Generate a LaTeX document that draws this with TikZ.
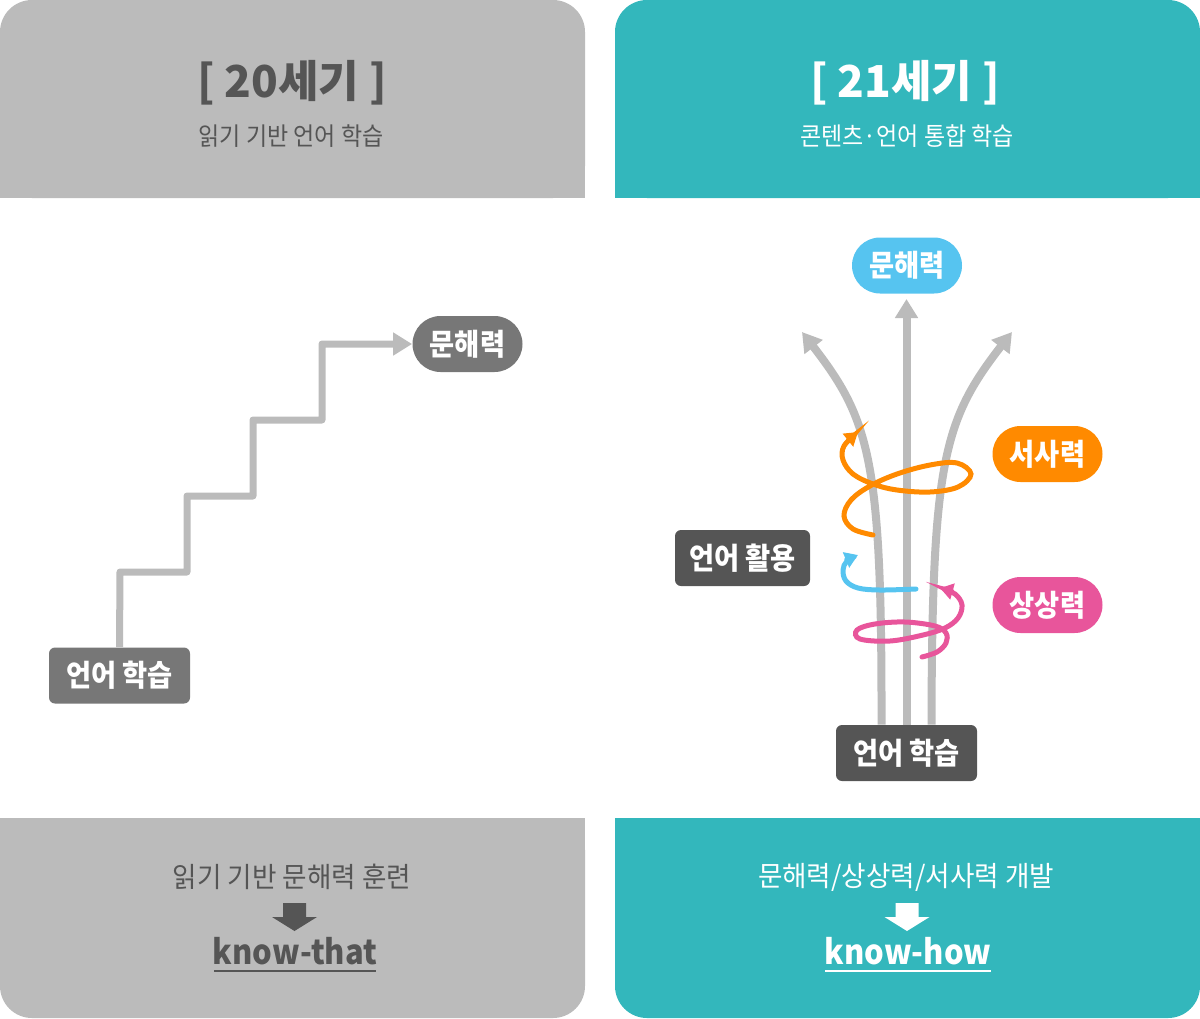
\documentclass[tikz,border=0pt]{standalone}
\usepackage{fontspec}
\setmainfont{Noto Sans CJK KR}
\newfontfamily\fsub{Noto Sans CJK KR}[FakeStretch=0.92]
\newfontfamily\fbot{Noto Sans CJK KR}[FakeStretch=0.95]
\newfontfamily\flbl{Noto Sans CJK KR}[FakeStretch=0.91]
\usetikzlibrary{arrows.meta}
\definecolor{panelgray}{HTML}{BBBBBB}
\definecolor{panelteal}{HTML}{33B7BC}
\definecolor{txtgray}{HTML}{555555}
\definecolor{boxgray}{HTML}{777777}
\definecolor{boxdark}{HTML}{555555}
\definecolor{skyb}{HTML}{56C4F0}
\definecolor{orng}{HTML}{FF8A00}
\definecolor{pnk}{HTML}{E8559B}
\definecolor{linegray}{HTML}{BBBBBB}
\begin{document}
\begin{tikzpicture}[x=0.5pt,y=-0.5pt,
  lbl/.style={text=white,font=\flbl\fontsize{15pt}{18pt}\selectfont\bfseries,inner sep=0pt,align=center},
  sqbox/.style={lbl,rounded corners=3pt,minimum width=70.5pt,minimum height=28pt},
  pill/.style={lbl,rounded corners=14pt,minimum width=55pt,minimum height=28pt},
  title/.style={font=\fontsize{22pt}{26pt}\selectfont\bfseries,inner sep=0pt},
  subt/.style={font=\fsub\fontsize{12.5pt}{15pt}\selectfont,inner sep=0pt},
  bott/.style={font=\fbot\fontsize{14pt}{17pt}\selectfont,inner sep=0pt},
  know/.style={font=\flbl\fontsize{17pt}{20pt}\selectfont\bfseries,inner sep=0pt,anchor=base},
  stair/.style={draw=linegray,line width=3.5pt,line join=round,-{Triangle[length=9.5pt,width=11pt]}},
  grayarr/.style={draw=linegray,line width=4pt,-{Triangle[length=9.5pt,width=11pt]}},
  spiral/.style={line width=2.5pt,line cap=round,-{Triangle[length=6.5pt,width=8pt]}}]
\useasboundingbox (0,0) rectangle (1200,1018);
% panels
\fill[panelgray,rounded corners=16pt] (0,0) rectangle (585,198);
\fill[panelgray] (0,100) rectangle (585,198);
\fill[panelteal,rounded corners=16pt] (615,0) rectangle (1200,198);
\fill[panelteal] (615,100) rectangle (1200,198);
\fill[panelgray,rounded corners=16pt] (0,818) rectangle (585,1018);
\fill[panelgray] (0,818) rectangle (585,900);
\fill[panelteal,rounded corners=16pt] (615,818) rectangle (1200,1018);
\fill[panelteal] (615,818) rectangle (1200,900);
% header texts
\node[title,text=txtgray] (t20) at (292,83) {[ 20세기 ]};
\node[subt,text=txtgray] (s20) at (291,136) {읽기 기반 언어 학습};
\node[title,text=white] (t21) at (905,83) {[ 21세기 ]};
\node[subt,text=white] (s21) at (907,136) {콘텐츠·언어 통합 학습};
% left diagram
\node[sqbox,fill=boxgray] (ls) at (119.5,675.5) {언어 학습};
\node[pill,fill=boxgray] (lm) at (467.5,344) {문해력};
\draw[stair] (ls.north) -- (120,572) -- (187,572) -- (187,496) -- (253,496) -- (253,420) -- (322,420) -- (322,344) -- (lm.west);
% right diagram
\node[pill,fill=skyb] (rm) at (907,265.5) {문해력};
\node[pill,fill=orng] (rs) at (1047.5,454) {서사력};
\node[pill,fill=pnk] (ri) at (1047.5,605) {상상력};
\node[sqbox,fill=boxdark,minimum width=67.5pt] (ru) at (742.5,558) {언어 활용};
\node[sqbox,fill=boxdark] (rb) at (906.5,753) {언어 학습};
\coordinate (bl) at ([xshift=-12.5pt]rb.north);
\coordinate (bc) at (rb.north);
\coordinate (br) at ([xshift=12.5pt]rb.north);
\coordinate (tipL) at (802,332);
\coordinate (tipC) at (906.5,299);
\coordinate (tipR) at (1012,332);
\draw[grayarr] (bc) -- (tipC);
\draw[grayarr] (bl) .. controls (882,460) and (870,420) .. (tipL);
\draw[grayarr] (br) .. controls (932,460) and (944,420) .. (tipR);
% spirals
\draw[spiral,orng] plot[smooth,tension=0.6] coordinates {(873,535) (853,529) (844,516) (851,500) (870,486) (897,474) (930,465) (957,463) (971,474) (958,487) (930,492) (897,490) (873,484) (853,474) (843,460) (844,446) (858,432)};
\draw[spiral,skyb] plot[smooth,tension=0.6] coordinates {(916,589) (880,590) (858,588) (846,581) (843,570) (847,561) (858,555)};
\draw[spiral,pnk] plot[smooth,tension=0.6] coordinates {(922,657) (937,652) (946,643) (946,633) (935,626) (905,622) (875,624) (857,630) (860,639) (890,641) (923,635) (945,628) (958,618) (962,605) (955,594) (940,588)};
% bottom texts
\node[bott,text=txtgray] (b20) at (292,877) {읽기 기반 문해력 훈련};
\fill[txtgray] (283,903) -- (306,903) -- (306,917) -- (317,917) -- (294.5,931) -- (272,917) -- (283,917) -- cycle;
\node[know,text=txtgray] (k20) at (295,964) {know-that};
\fill[txtgray] (214,970) rectangle (376,972);
\node[bott,text=white] (b21) at (906,877) {문해력/상상력/서사력 개발};
\fill[white] (895.5,903) -- (918.5,903) -- (918.5,917) -- (929.5,917) -- (907,931) -- (884.5,917) -- (895.5,917) -- cycle;
\node[know,text=white] (k21) at (908,964) {know-how};
\fill[white] (825,970) rectangle (991,972);
\end{tikzpicture}
\end{document}
